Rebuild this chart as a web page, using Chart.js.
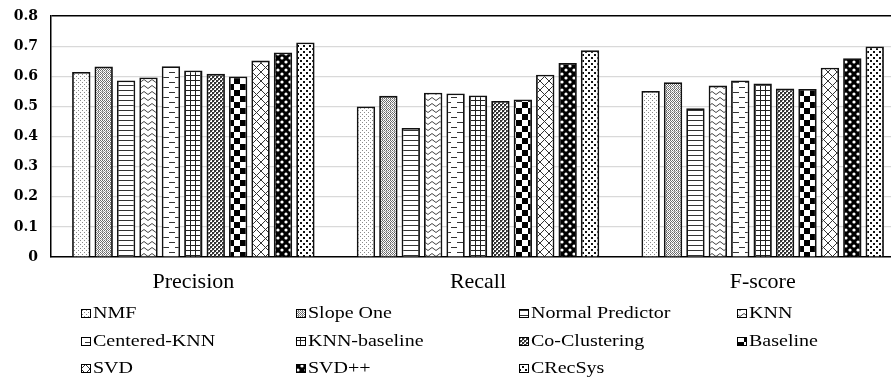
<!DOCTYPE html>
<html>
<head>
<meta charset="utf-8">
<script src="https://cdn.jsdelivr.net/npm/chart.js@4.4.1/dist/chart.umd.min.js"></script>
<style>
html,body{margin:0;padding:0;background:#fff;overflow:hidden;}
#wrap{position:absolute;left:0;top:0;width:905px;height:384px;}
</style>
</head>
<body>
<div id="wrap"><canvas id="c" width="905" height="384"></canvas></div>
<script>
const categories = ["Precision", "Recall", "F-score"];
const seriesNames = ["NMF","Slope One","Normal Predictor","KNN","Centered-KNN","KNN-baseline","Co-Clustering","Baseline","SVD","SVD++","CRecSys"];
const nmf          = [0.614, 0.500, 0.551];
const slopeOne     = [0.632, 0.535, 0.580];
const normalPred   = [0.586, 0.428, 0.494];
const knn          = [0.596, 0.545, 0.569];
const centeredKnn  = [0.633, 0.543, 0.586];
const knnBaseline  = [0.619, 0.536, 0.576];
const coClustering = [0.608, 0.518, 0.559];
const baseline     = [0.599, 0.523, 0.558];
const svd          = [0.652, 0.605, 0.628];
const svdpp        = [0.679, 0.644, 0.660];
const crecsys      = [0.712, 0.686, 0.699];
const yTicks = [0, 0.1, 0.2, 0.3, 0.4, 0.5, 0.6, 0.7, 0.8];

const seriesValues = [nmf, slopeOne, normalPred, knn, centeredKnn, knnBaseline, coClustering, baseline, svd, svdpp, crecsys];

function tile(w, h, draw) {
  const c = document.createElement('canvas');
  c.width = w; c.height = h;
  const g = c.getContext('2d');
  g.fillStyle = '#fff'; g.fillRect(0, 0, w, h);
  draw(g, w, h);
  return document.getElementById('c').getContext('2d').createPattern(c, 'repeat');
}
const patterns = [
  tile(4, 4, g => { g.fillStyle = '#8a8a8a'; g.fillRect(0,0,1,1); g.fillRect(2,2,1,1); }),
  tile(4, 4, g => { g.fillStyle = '#6a6a6a'; g.fillRect(0,0,1,1); g.fillRect(2,0,1,1); g.fillRect(1,1,1,1); g.fillRect(3,1,1,1); g.fillRect(0,2,1,1); g.fillRect(2,2,1,1); g.fillStyle='#aaa'; g.fillRect(1,3,2,1); g.fillRect(3,3,1,1);}),
  tile(4, 5, g => { g.fillStyle = '#333'; g.fillRect(0,0,4,1); }),
  tile(8, 6, g => { g.strokeStyle = '#444'; g.lineWidth = 1; g.beginPath(); g.moveTo(0,1.5); g.lineTo(4,4.5); g.lineTo(8,1.5); g.stroke(); }),
  tile(12, 10, g => { g.fillStyle = '#333'; g.fillRect(1,2,6,1); g.fillRect(7,7,5,1); g.fillRect(0,7,1,1); }),
  tile(5, 5, g => { g.fillStyle = '#222'; g.fillRect(0,0,5,1); g.fillRect(0,0,1,5); }),
  tile(4, 4, g => { g.fillStyle = '#333'; g.fillRect(0,0,2,2); g.fillRect(2,2,2,2); g.fillStyle='#888'; g.fillRect(2,0,1,1); g.fillRect(0,2,1,1);}),
  tile(12, 12, g => { g.fillStyle = '#000'; g.fillRect(0,0,6,6); g.fillRect(6,6,6,6); }),
  tile(9, 9, g => { g.strokeStyle = '#333'; g.lineWidth = 1; g.beginPath(); g.moveTo(0,0); g.lineTo(9,9); g.moveTo(9,0); g.lineTo(0,9); g.stroke(); }),
  tile(8, 8, g => { g.fillStyle = '#000'; g.fillRect(0,0,8,8); g.fillStyle = '#fff';
    g.beginPath(); g.arc(2,2,1.6,0,Math.PI*2); g.fill(); g.beginPath(); g.arc(6,6,1.6,0,Math.PI*2); g.fill(); }),
  tile(6, 6, g => { g.fillStyle = '#111'; g.fillRect(0,0,2,2); g.fillRect(3,3,2,2); })
];

const datasets = seriesNames.map((name, i) => ({
  label: name,
  data: seriesValues[i],
  backgroundColor: patterns[i],
  borderColor: '#111',
  borderWidth: 1.8,
  barPercentage: 0.82,
  categoryPercentage: 0.866
}));

const legendCols = [81, 296, 519, 737];
const legendRows = [313, 341, 368];
const legendPlugin = {
  id: 'gridLegend',
  afterDraw(chart) {
    const ctx = chart.ctx;
    ctx.save();
    ctx.font = '16px "Liberation Serif", "Times New Roman", serif';
    ctx.textBaseline = 'middle';
    ctx.textAlign = 'left';
    chart.data.datasets.forEach((ds, i) => {
      const col = i % 4, row = Math.floor(i / 4);
      const x = legendCols[col], y = legendRows[row];
      ctx.fillStyle = ds.backgroundColor;
      ctx.fillRect(x, y - 4, 10, 9);
      ctx.strokeStyle = '#000';
      ctx.lineWidth = 1;
      ctx.strokeRect(x + 0.5, y - 3.5, 9, 8);
      ctx.fillStyle = '#000';
      ctx.save();
      ctx.translate(x + 12, y + 1);
      ctx.scale(1.25, 1);
      ctx.fillText(ds.label, 0, 0);
      ctx.restore();
    });
    ctx.restore();
  }
};

new Chart(document.getElementById('c'), {
  type: 'bar',
  data: { labels: categories, datasets },
  plugins: [legendPlugin],
  options: {
    responsive: false,
    animation: false,
    layout: { padding: { top: 16, right: 0, bottom: 87, left: 0 } },
    plugins: { legend: { display: false }, tooltip: { enabled: false } },
    scales: {
      x: {
        grid: { display: false, drawTicks: false },
        border: { display: true, color: '#000', width: 1.5 },
        ticks: { color: '#000', padding: 12, font: { family: '"Liberation Serif", "Times New Roman", serif', size: 22 } },
        afterFit(scale) { scale.height = 40; }
      },
      y: {
        min: 0, max: 0.8,
        afterBuildTicks(scale) { scale.ticks = yTicks.map(v => ({ value: v })); },
        grid: {
          color: ctx => (ctx.tick && ctx.tick.value === 0.8) ? '#000' : '#d9d9d9',
          lineWidth: ctx => (ctx.tick && ctx.tick.value === 0.8) ? 1.5 : 1.2,
          drawTicks: false
        },
        border: { display: true, color: '#000', width: 1.5 },
        ticks: {
          color: '#000', padding: 13,
          font: { family: '"DejaVu Serif", serif', size: 14, weight: 'bold' },
          callback: v => (v === 0 ? '0' : v.toFixed(1))
        },
        afterFit(scale) { scale.width = 51; scale.paddingTop = 0; scale.paddingBottom = 0; }
      }
    }
  }
});
</script>
</body>
</html>
